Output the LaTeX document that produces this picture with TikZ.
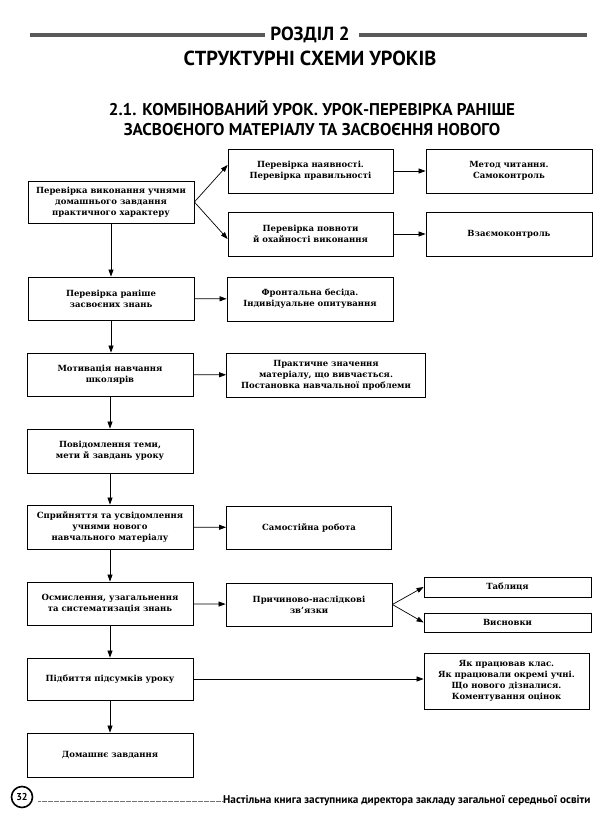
\documentclass[tikz,border=0pt]{standalone}
\usepackage{fontspec}
\setmainfont{DejaVu Serif}
\newfontfamily\headfont{PT Sans}
\usetikzlibrary{arrows.meta, positioning, calc}

\tikzset{
  blok/.style={draw, line width=0.8pt, minimum width=166pt, minimum height=44pt, inner sep=1pt, align=center, font=\fontsize{8.5}{11}\selectfont\bfseries},
  strilka/.style={-{Triangle[length=7pt,width=5pt]}, line width=0.7pt},
  smuha/.style={line width=3.5pt, color=black!65},
}

\begin{document}
\begin{tikzpicture}[x=1pt,y=1pt,yscale=-1,xscale=1]
\useasboundingbox (0,0) rectangle (600,819);
\fill[white] (0,0) rectangle (600,819);

% Text Node
\node[font=\headfont\bfseries\fontsize{19}{20}\selectfont, inner sep=0pt] (rozdil) at (310,35) {РОЗДІЛ 2};
\coordinate (smL) at (29.5,35);
\coordinate (smR) at (587,35);
%Straight Lines
\draw[smuha] (smL) -- ($(rozdil.west)+(-5,0)$);
\draw[smuha] ($(rozdil.east)+(9,0)$) -- (smR);
% Text Node
\node[font=\headfont\bfseries\fontsize{20.3}{22}\selectfont, inner sep=0pt] (nazva) at (310,58) {СТРУКТУРНІ СХЕМИ УРОКІВ};
% Text Node
\node[font=\headfont\bfseries\fontsize{17}{19.5}\selectfont, align=center, inner sep=0pt] (pidrozdil) at (312,118) {2.1. КОМБІНОВАНИЙ УРОК. УРОК-ПЕРЕВІРКА РАНІШЕ\\ЗАСВОЄНОГО МАТЕРІАЛУ ТА ЗАСВОЄННЯ НОВОГО};

%Shape: Rectangle
\node[blok, minimum height=42pt] (a) at (111,202) {Перевірка виконання учнями\\домашнього завдання\\практичного характеру};
\node[blok, minimum width=165pt] (b1) at (310.5,171) {Перевірка наявності.\\Перевірка правильності};
\node[blok] (c1) at (509,171) {Метод читання.\\Самоконтроль};
\node[blok, minimum width=165pt] (b2) at (310.5,234) {Перевірка повноти\\й охайності виконання};
\node[blok] (c2) at (509,234) {Взаємоконтроль};
\node[blok, minimum height=43pt] (d) at (111,298.5) {Перевірка раніше\\засвоєних знань};
\node[blok] (e) at (310,299) {Фронтальна бесіда.\\Індивідуальне опитування};
\node[blok, minimum height=43pt] (f) at (110,374.5) {Мотивація навчання\\школярів};
\node[blok, minimum width=199pt] (g) at (326,375) {Практичне значення\\матеріалу, що вивчається.\\Постановка навчальної проблеми};
\node[blok] (h) at (110,451) {Повідомлення теми,\\мети й завдань уроку};
\node[blok] (i) at (110,527) {Сприйняття та усвідомлення\\учнями нового\\навчального матеріалу};
\node[blok, minimum width=165pt, minimum height=43pt] (j) at (309,527.5) {Самостійна робота};
\node[blok, minimum height=43pt] (k) at (110,603.5) {Осмислення, узагальнення\\та систематизація знань};
\node[blok, minimum height=43pt] (l) at (309,604.5) {Причиново-наслідкові\\зв'язки};
\node[blok, minimum width=167pt, minimum height=20pt] (m1) at (507.5,587) {Таблиця};
\node[blok, minimum width=167pt, minimum height=19pt] (m2) at (507.5,622.5) {Висновки};
\node[blok, minimum height=42pt] (n) at (110,679) {Підбиття підсумків уроку};
\node[blok, minimum width=165pt, minimum height=56pt] (o) at (506.5,681) {Як працював клас.\\Як працювали окремі учні.\\Що нового дізналися.\\Коментування оцінок};
\node[blok] (p) at (110,755) {Домашнє завдання};

%Straight Lines
\draw[strilka] (a.east) -- ($(b1.west)+(0,-6)$);
\draw[strilka] (a.east) -- ($(b2.west)+(0,5)$);
\draw[strilka] (b1) -- (c1);
\draw[strilka] (b2) -- (c2);
\draw[strilka] (a.south) -- (a.south |- d.north);
\draw[strilka] (d) -- (e);
\draw[strilka] (d.south) -- (d.south |- f.north);
\draw[strilka] (f) -- (g);
\draw[strilka] (f) -- (h);
\draw[strilka] (h) -- (i);
\draw[strilka] (i) -- (j);
\draw[strilka] (i) -- (k);
\draw[strilka] (k) -- (l);
\draw[strilka] (l.east) -- (m1.west);
\draw[strilka] (l.east) -- (m2.west);
\draw[strilka] (k) -- (n);
\draw[strilka] (n.east) -- (n.east -| o.west);
\draw[strilka] (n) -- (p);

% Text Node
\node[draw, circle, line width=1.6pt, minimum size=21pt, inner sep=0pt, font=\headfont\bfseries\fontsize{10}{11}\selectfont] (storinka) at (22,797) {32};
\node[anchor=west, inner sep=0pt, font=\headfont\bfseries\fontsize{11.2}{13}\selectfont] (knyha) at (223,801) {Настільна книга заступника директора закладу загальної середньої освіти};
\coordinate (krapky) at (38,801);
%Straight Lines
\draw[line width=0.7pt, black!55, dash pattern=on 0.5pt off 0.7pt] (krapky) -- (knyha.west);

\end{tikzpicture}
\end{document}
